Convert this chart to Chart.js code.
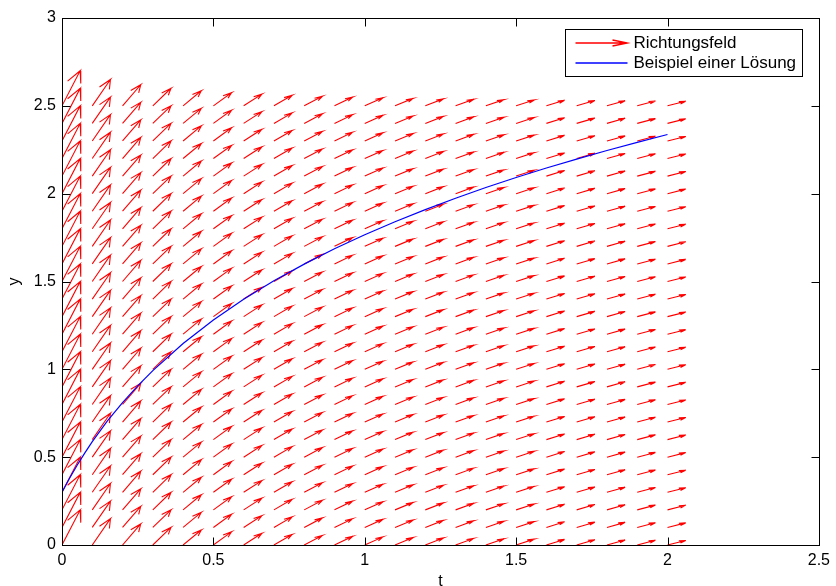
<!DOCTYPE html>
<html>
<head>
<meta charset="utf-8">
<script src="https://cdn.jsdelivr.net/npm/chart.js@4.4.0/dist/chart.umd.min.js"></script>
<style>
  html, body { margin: 0; padding: 0; background: #fff; }
</style>
</head>
<body>
<canvas id="myChart" width="836" height="586"></canvas>
<script>
// grid of the direction field
const gridT = [0, 0.1, 0.2, 0.3, 0.4, 0.5, 0.6, 0.7, 0.8, 0.9, 1.0, 1.1, 1.2, 1.3, 1.4, 1.5, 1.6, 1.7, 1.8, 1.9, 2.0];
const gridY = [0, 0.1, 0.2, 0.3, 0.4, 0.5, 0.6, 0.7, 0.8, 0.9, 1.0, 1.1, 1.2, 1.3, 1.4, 1.5, 1.6, 1.7, 1.8, 1.9, 2.0, 2.1, 2.2, 2.3, 2.4, 2.5];
// slope of the arrows in each column
const slopes = [3.33, 2.5, 2.0, 1.67, 1.43, 1.25, 1.11, 1.0, 0.91, 0.83, 0.77, 0.71, 0.67, 0.625, 0.59, 0.56, 0.53, 0.5, 0.48, 0.45, 0.43];
const arrowScale = 0.06; // horizontal length of every arrow

// example solution
const solT = [0, 0.025, 0.05, 0.075, 0.1, 0.15, 0.2, 0.25, 0.3, 0.4, 0.5, 0.6, 0.7, 0.8, 0.9, 1.0, 1.1, 1.2, 1.3, 1.4, 1.5, 1.6, 1.7, 1.8, 1.9, 2.0];
const solY = [0.300, 0.380, 0.454, 0.523, 0.588, 0.706, 0.811, 0.906, 0.993, 1.147, 1.281, 1.399, 1.504, 1.599, 1.686, 1.766, 1.840, 1.909, 1.974, 2.035, 2.092, 2.146, 2.197, 2.246, 2.292, 2.337];

const xTicks = [0, 0.5, 1, 1.5, 2, 2.5];
const yTicks = [0, 0.5, 1, 1.5, 2, 2.5, 3];

const RED = '#ff0000';
const BLUE = '#0000ff';

// quiver-like arrows (shaft + two barbs), split with nulls
const alpha = 0.33, beta = 0.33;
const arrowPts = [];
gridT.forEach((t, i) => {
  const u = arrowScale, v = arrowScale * slopes[i];
  gridY.forEach(y => {
    const tx = t + u, ty = y + v;
    arrowPts.push(
      {x: t, y: y}, {x: tx, y: ty},
      {x: tx - alpha * (u + beta * v), y: ty - alpha * (v - beta * u)},
      {x: tx, y: null},
      {x: tx, y: ty},
      {x: tx - alpha * (u - beta * v), y: ty - alpha * (v + beta * u)},
      {x: tx, y: null}
    );
  });
});
const solPts = solT.map((t, i) => ({x: t, y: solY[i]}));

const FONT = 'Liberation Sans, Arial, Helvetica, sans-serif';

// box round the axes with inward tick marks
const framePlugin = {
  id: 'frame',
  afterDatasetsDraw(chart) {
    const {ctx, chartArea: a, scales} = chart;
    ctx.save();
    ctx.strokeStyle = '#000';
    ctx.lineWidth = 1;
    const L = Math.round(a.left) + 0.5, R = Math.round(a.right) + 0.5;
    const T = Math.round(a.top) + 0.5, B = Math.round(a.bottom) + 0.5;
    ctx.strokeRect(L, T, R - L, B - T);
    ctx.beginPath();
    xTicks.forEach(v => {
      const px = Math.round(scales.x.getPixelForValue(v)) + 0.5;
      ctx.moveTo(px, B); ctx.lineTo(px, B - 8);
      ctx.moveTo(px, T); ctx.lineTo(px, T + 8);
    });
    yTicks.forEach(v => {
      const py = Math.round(scales.y.getPixelForValue(v)) + 0.5;
      ctx.moveTo(L, py); ctx.lineTo(L + 8, py);
      ctx.moveTo(R, py); ctx.lineTo(R - 8, py);
    });
    ctx.stroke();
    ctx.restore();
  }
};

// legend box inside the axes, top right
const legendPlugin = {
  id: 'boxLegend',
  afterDraw(chart) {
    const {ctx, chartArea: a} = chart;
    const items = [
      {label: 'Richtungsfeld', color: RED, arrow: true},
      {label: 'Beispiel einer Lösung', color: BLUE, arrow: false}
    ];
    const w = 237, h = 47;
    const x0 = Math.round(a.right - 17 - w) + 0.5, y0 = Math.round(a.top + 11) + 0.5;
    ctx.save();
    ctx.fillStyle = '#fff';
    ctx.fillRect(x0, y0, w, h);
    ctx.strokeStyle = '#000';
    ctx.lineWidth = 1;
    ctx.strokeRect(x0, y0, w, h);
    ctx.font = '17px ' + FONT;
    ctx.textBaseline = 'middle';
    const rows = [y0 + 13.5, y0 + 33.5];
    items.forEach((it, i) => {
      const y = rows[i];
      ctx.strokeStyle = it.color;
      ctx.lineWidth = 1.3;
      ctx.beginPath();
      ctx.moveTo(x0 + 10, y); ctx.lineTo(x0 + 62, y);
      if (it.arrow) {
        ctx.moveTo(x0 + 47, y - 3); ctx.lineTo(x0 + 62, y); ctx.lineTo(x0 + 47, y + 3);
      }
      ctx.stroke();
      ctx.fillStyle = '#000';
      ctx.fillText(it.label, x0 + 68, rows[i]);
    });
    ctx.restore();
  }
};

new Chart(document.getElementById('myChart'), {
  type: 'scatter',
  data: {
    datasets: [
      {
        label: 'Richtungsfeld',
        data: arrowPts,
        showLine: true,
        borderColor: RED,
        borderWidth: 1.1,
        pointRadius: 0,
        spanGaps: false,
        order: 1
      },
      {
        label: 'Beispiel einer Lösung',
        data: solPts,
        showLine: true,
        borderColor: BLUE,
        borderWidth: 1.2,
        pointRadius: 0,
        order: 0
      }
    ]
  },
  options: {
    responsive: false,
    animation: false,
    events: [],
    layout: { padding: { top: 18, right: 12, left: 0, bottom: 0 } },
    plugins: { legend: { display: false }, tooltip: { enabled: false } },
    scales: {
      x: {
        type: 'linear', min: 0, max: 2.5,
        afterBuildTicks: s => { s.ticks = xTicks.map(v => ({value: v})); },
        afterFit: s => { s.height = 41; },
        grid: { display: false, drawTicks: false },
        border: { display: false },
        ticks: { color: '#000', font: { family: FONT, size: 16 }, padding: 6, maxRotation: 0, autoSkip: false,
                 callback: v => String(v) },
        title: { display: true, text: 't', color: '#000', font: { family: FONT, size: 16 }, padding: { top: 0, bottom: -5 } }
      },
      y: {
        type: 'linear', min: 0, max: 3,
        afterBuildTicks: s => { s.ticks = yTicks.map(v => ({value: v})); },
        afterFit: s => { s.width = 62; },
        grid: { display: false, drawTicks: false },
        border: { display: false },
        ticks: { color: '#000', font: { family: FONT, size: 16 }, padding: 6, autoSkip: false,
                 callback: v => String(v) },
        title: { display: true, text: 'y', color: '#000', font: { family: FONT, size: 16 }, padding: { top: 5, bottom: 0 } }
      }
    }
  },
  plugins: [framePlugin, legendPlugin]
});
</script>
</body>
</html>
